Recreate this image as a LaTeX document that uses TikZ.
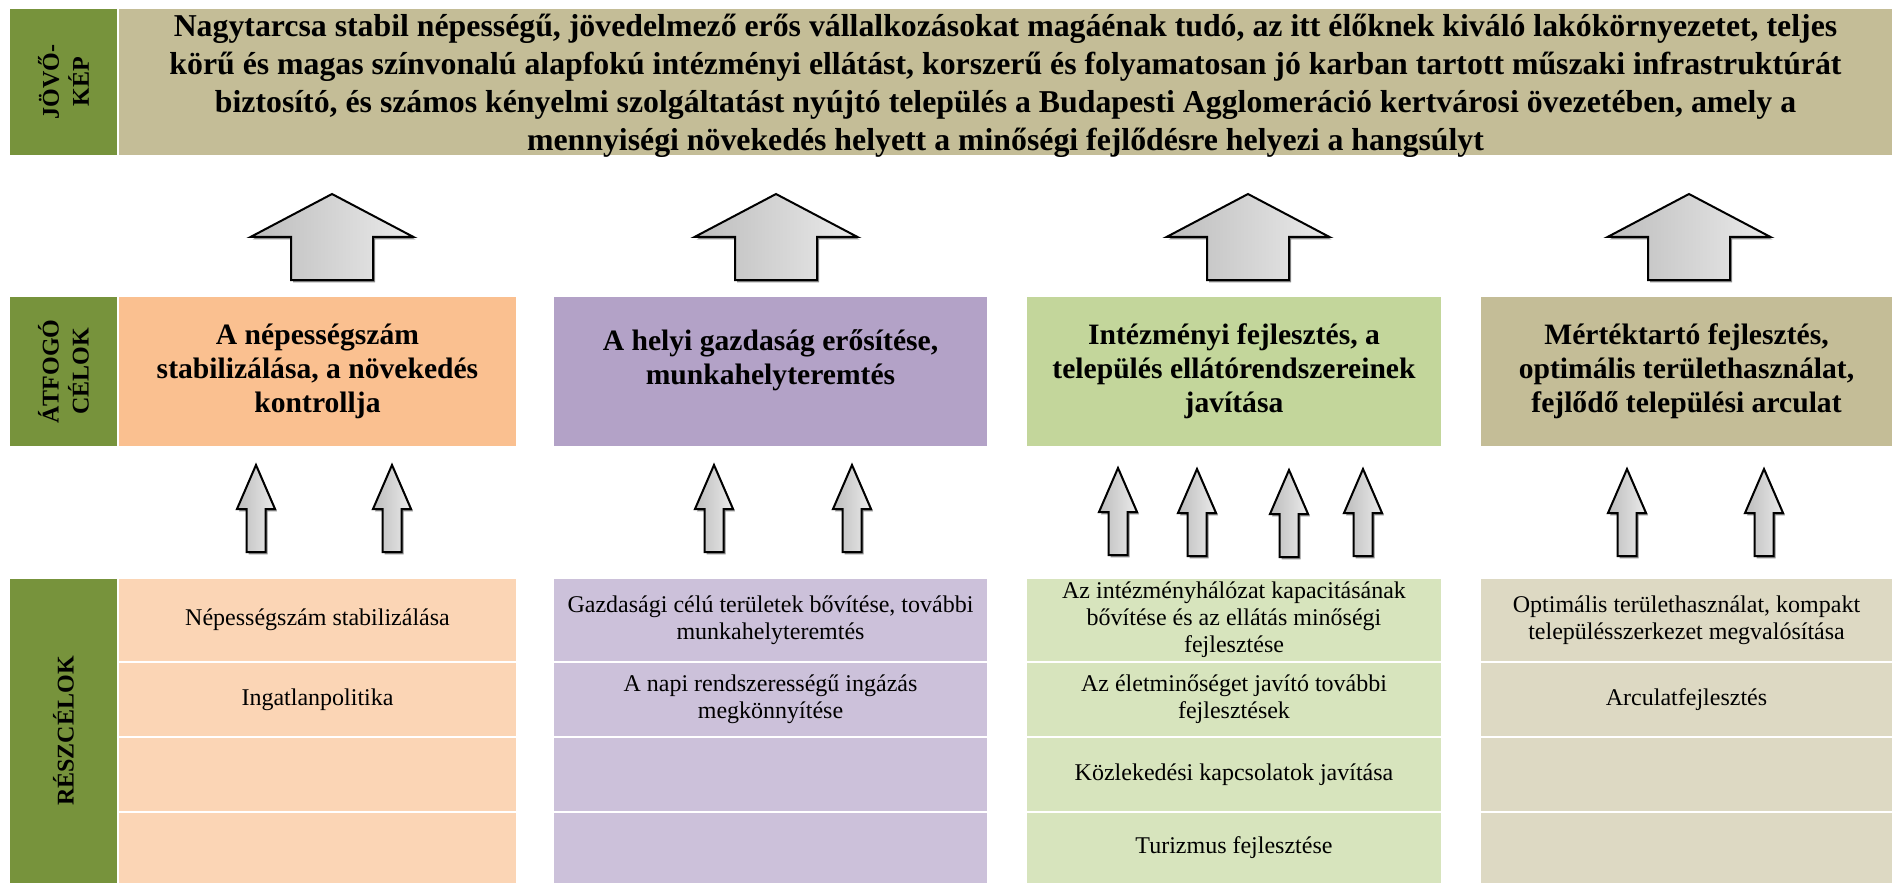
\documentclass[tikz,border=0pt]{standalone}
\usepackage{fontspec}
\setmainfont{Liberation Serif}
\usepackage{tikz}

\definecolor{labgreen}{RGB}{119,147,60}
\definecolor{visiontan}{RGB}{196,189,151}
\definecolor{goalorange}{RGB}{250,192,144}
\definecolor{goalpurple}{RGB}{179,162,199}
\definecolor{goalgreen}{RGB}{195,214,155}
\definecolor{goaltan}{RGB}{196,189,151}
\definecolor{suborange}{RGB}{251,213,181}
\definecolor{subpurple}{RGB}{204,193,218}
\definecolor{subgreen}{RGB}{215,228,189}
\definecolor{subtan}{RGB}{221,217,195}

\tikzset{
 lab/.style
  = {rectangle, fill=labgreen, rotate=90, inner sep=0pt, align=center,
     minimum height=53.5pt, font=\bfseries\fontsize{12}{15}\selectfont},
 vis/.style
  = {rectangle, fill=visiontan, inner sep=0pt, align=center,
     minimum width=886.5pt, minimum height=73pt,
     font=\bfseries\fontsize{15.9}{19}\selectfont},
 goal/.style
  = {rectangle, inner sep=0pt, align=center, minimum height=74.5pt,
     font=\bfseries\fontsize{14.8}{17}\selectfont},
 sub/.style
  = {rectangle, inner sep=0pt, align=center,
     font=\fontsize{12}{13.6}\selectfont},
 arr/.style
  = {draw=black, line width=1pt, line join=miter, left color=black!26, right color=black!8},
 arrshadow/.style
  = {fill=black!45, xshift=1pt, yshift=-1.2pt},
}

\begin{document}
\begin{tikzpicture}[x=0.5pt, y=-0.5pt]
\useasboundingbox (0,0) rectangle (1892,883);

% Jovokep
\node[lab, minimum width=73pt] (visionlab) at (63.5,82) {JÖVŐ-\\KÉP};
\node[vis] (vision) at (1005.5,82) {};
\node[vis, fill=none, minimum height=0pt] (visiontext) at (1005.5,86) {Nagytarcsa stabil népességű, jövedelmező erős vállalkozásokat magáénak tudó, az itt élőknek kiváló lakókörnyezetet, teljes\\
körű és magas színvonalú alapfokú intézményi ellátást, korszerű és folyamatosan jó karban tartott műszaki infrastruktúrát\\
biztosító, és számos kényelmi szolgáltatást nyújtó település a Budapesti Agglomeráció kertvárosi övezetében, amely a\\
mennyiségi növekedés helyett a minőségi fejlődésre helyezi a hangsúlyt};

% Big arrows
\foreach \cx in {332,776,1248,1689} {
  \fill[arrshadow] (\cx,194) -- (\cx+81.5,237) -- (\cx+41,237) -- (\cx+41,280)
    -- (\cx-41,280) -- (\cx-41,237) -- (\cx-81.5,237) -- cycle;
  \path[arr] (\cx,194) -- (\cx+81.5,237) -- (\cx+41,237) -- (\cx+41,280)
    -- (\cx-41,280) -- (\cx-41,237) -- (\cx-81.5,237) -- cycle;
}

% Atfogo celok
\node[lab, minimum width=74.5pt] (goallab) at (63.5,371.5) {ÁTFOGÓ\\CÉLOK};
\node[goal, fill=goalorange, minimum width=198.5pt] (goal1) at (317.5,371.5)
  {A népességszám\\stabilizálása, a növekedés\\kontrollja};
\node[goal, fill=goalpurple, minimum width=216.5pt] (goal2) at (770.5,371.5) {};
\node[goal, minimum height=0pt] (goal2text) at (770.5,360)
  {A helyi gazdaság erősítése,\\munkahelyteremtés};
\node[goal, fill=goalgreen, minimum width=207pt] (goal3) at (1234,371.5)
  {Intézményi fejlesztés, a\\település ellátórendszereinek\\javítása};
\node[goal, fill=goaltan, minimum width=205.5pt] (goal4) at (1686.5,371.5)
  {Mértéktartó fejlesztés,\\optimális területhasználat,\\fejlődő települési arculat};

% Small arrows
\foreach \cx/\ty in {256/465, 392/465, 714/465, 852/465, 1118/468,
                     1197/469, 1289/470, 1363/469, 1627/469, 1764/469} {
  \fill[arrshadow] (\cx,\ty) -- (\cx+19,\ty+44) -- (\cx+9.5,\ty+44) -- (\cx+9.5,\ty+87)
    -- (\cx-9.5,\ty+87) -- (\cx-9.5,\ty+44) -- (\cx-19,\ty+44) -- cycle;
  \path[arr] (\cx,\ty) -- (\cx+19,\ty+44) -- (\cx+9.5,\ty+44) -- (\cx+9.5,\ty+87)
    -- (\cx-9.5,\ty+87) -- (\cx-9.5,\ty+44) -- (\cx-19,\ty+44) -- cycle;
}

% Reszcelok
\node[lab, minimum width=152pt] (sublab) at (63.5,731) {RÉSZCÉLOK};

% column 1
\node[sub, fill=suborange, minimum width=198.5pt, minimum height=41pt] (sub11) at (317.5,620)
  {Népességszám stabilizálása};
\node[sub, fill=suborange, minimum width=198.5pt, minimum height=36.5pt] (sub12) at (317.5,699.5)
  {Ingatlanpolitika};
\node[sub, fill=suborange, minimum width=198.5pt, minimum height=36.5pt] (sub13) at (317.5,774.5) {};
\node[sub, fill=suborange, minimum width=198.5pt, minimum height=35pt] (sub14) at (317.5,848) {};

% column 2
\node[sub, fill=subpurple, minimum width=216.5pt, minimum height=41pt] (sub21) at (770.5,620)
  {Gazdasági célú területek bővítése, további\\munkahelyteremtés};
\node[sub, fill=subpurple, minimum width=216.5pt, minimum height=36.5pt] (sub22) at (770.5,699.5)
  {A napi rendszerességű ingázás\\megkönnyítése};
\node[sub, fill=subpurple, minimum width=216.5pt, minimum height=36.5pt] (sub23) at (770.5,774.5) {};
\node[sub, fill=subpurple, minimum width=216.5pt, minimum height=35pt] (sub24) at (770.5,848) {};

% column 3
\node[sub, fill=subgreen, minimum width=207pt, minimum height=41pt] (sub31) at (1234,620)
  {Az intézményhálózat kapacitásának\\bővítése és az ellátás minőségi\\fejlesztése};
\node[sub, fill=subgreen, minimum width=207pt, minimum height=36.5pt] (sub32) at (1234,699.5)
  {Az életminőséget javító további\\fejlesztések};
\node[sub, fill=subgreen, minimum width=207pt, minimum height=36.5pt] (sub33) at (1234,774.5)
  {Közlekedési kapcsolatok javítása};
\node[sub, fill=subgreen, minimum width=207pt, minimum height=35pt] (sub34) at (1234,848)
  {Turizmus fejlesztése};

% column 4
\node[sub, fill=subtan, minimum width=205.5pt, minimum height=41pt] (sub41) at (1686.5,620)
  {Optimális területhasználat, kompakt\\településszerkezet megvalósítása};
\node[sub, fill=subtan, minimum width=205.5pt, minimum height=36.5pt] (sub42) at (1686.5,699.5)
  {Arculatfejlesztés};
\node[sub, fill=subtan, minimum width=205.5pt, minimum height=36.5pt] (sub43) at (1686.5,774.5) {};
\node[sub, fill=subtan, minimum width=205.5pt, minimum height=35pt] (sub44) at (1686.5,848) {};

\end{tikzpicture}
\end{document}
